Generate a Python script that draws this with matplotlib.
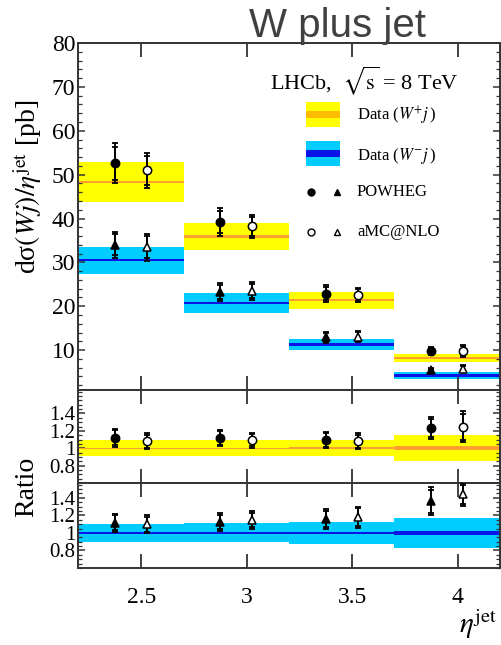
import numpy as np
import matplotlib
matplotlib.use("Agg")
import matplotlib.pyplot as plt
from matplotlib.ticker import MultipleLocator, FixedLocator, FixedFormatter
from matplotlib.patches import Rectangle

plt.rcParams['font.family'] = ['Liberation Serif', 'DejaVu Serif']
plt.rcParams['mathtext.fontset'] = 'stix'

# === data ===
edges = [2.2, 2.7, 3.2, 3.7, 4.2]

# cross-section panel [pb]
data_wp = [48.3, 35.9, 21.4, 8.2]
data_wp_err = [4.5, 3.1, 1.95, 1.0]
data_wm = [30.5, 20.7, 11.3, 4.2]
data_wm_err = [3.1, 2.3, 1.3, 0.7]

pow_wp = [52.6, 39.2, 22.9, 9.8]
pow_wp_err = [4.6, 3.1, 1.85, 0.85]
pow_wp_in = [3.8, 2.6, 1.5, 0.7]
amc_wp = [51.0, 38.2, 22.6, 9.8]
amc_wp_err = [4.0, 2.7, 1.6, 1.4]
amc_wp_in = [3.3, 2.2, 1.3, 1.1]

pow_wm = [34.0, 23.3, 12.9, 5.5]
pow_wm_err = [2.9, 2.0, 1.2, 0.4]
pow_wm_in = [2.4, 1.6, 1.0, 0.3]
amc_wm = [33.4, 23.5, 13.1, 5.7]
amc_wm_err = [3.1, 2.0, 1.3, 0.8]
amc_wm_in = [2.5, 1.6, 1.0, 0.6]

# ratio panels
rat_wp_band = [0.095, 0.092, 0.095, 0.148]
rat_wp_stat = [0.008, 0.008, 0.01, 0.02]
rat_pow_wp = [1.12, 1.12, 1.095, 1.235]
rat_pow_wp_err = [0.105, 0.095, 0.095, 0.125]
rat_pow_wp_in = [0.085, 0.08, 0.08, 0.1]
rat_amc_wp = [1.08, 1.09, 1.08, 1.247]
rat_amc_wp_err = [0.09, 0.085, 0.09, 0.18]
rat_amc_wp_in = [0.075, 0.07, 0.075, 0.15]

rat_wm_band = [0.103, 0.108, 0.122, 0.17]
rat_wm_stat = [0.008, 0.008, 0.01, 0.02]
rat_pow_wm = [1.115, 1.126, 1.16, 1.36]
rat_pow_wm_err = [0.105, 0.10, 0.11, 0.16]
rat_pow_wm_in = [0.085, 0.08, 0.09, 0.13]
rat_amc_wm = [1.10, 1.145, 1.18, 1.44]
rat_amc_wm_err = [0.105, 0.10, 0.12, 0.13]
rat_amc_wm_in = [0.085, 0.08, 0.10, 0.11]

YEL = '#ffff00'
ORA = '#ff9f30'
CYA = '#00ccff'
BLU = '#0a14e6'
SPINE = '#333333'

centers = np.array([(a + b) / 2 for a, b in zip(edges[:-1], edges[1:])])
x_pow = centers - 0.075
x_amc = centers + 0.075
width = 0.5


def band(ax, vals, errs, stat, c_out, c_in):
    vals = np.array(vals)
    errs = np.array(errs)
    stat = np.array(stat)
    ax.bar(centers, 2 * errs, bottom=vals - errs, width=width, color=c_out, linewidth=0, zorder=1)
    ax.bar(centers, 2 * stat, bottom=vals - stat, width=width, color=c_in, linewidth=0, zorder=2)


def points(ax, x, vals, err, err_in, marker, filled):
    face = 'black' if filled else 'white'
    ax.errorbar(x, vals, yerr=err, fmt='none', ecolor='black', elinewidth=1.3, capsize=2, capthick=1.3, zorder=4)
    ax.errorbar(x, vals, yerr=err_in, fmt='none', ecolor='black', elinewidth=1.3, capsize=2, capthick=1.3, zorder=4)
    ax.plot(x, vals, linestyle='none', marker=marker, markersize=6, markerfacecolor=face,
            markeredgecolor='black', markeredgewidth=1.1, zorder=5)


def style(ax, ymin, ymax, minor, lsize):
    ax.set_xlim(2.2, 4.2)
    ax.set_ylim(ymin, ymax)
    for s in ax.spines.values():
        s.set_linewidth(1.4)
        s.set_color(SPINE)
    ax.xaxis.set_major_locator(FixedLocator([2.5, 3, 3.5, 4]))
    ax.yaxis.set_minor_locator(MultipleLocator(minor))
    ax.tick_params(axis='x', which='major', direction='in', length=10, width=1.3, color=SPINE,
                   top=True, bottom=True, labelbottom=False)
    ax.tick_params(axis='y', which='major', direction='in', length=5, width=1.1, color=SPINE,
                   left=True, right=True, labelsize=lsize, pad=2)
    ax.tick_params(axis='y', which='minor', direction='in', length=3, width=0.9, color=SPINE,
                   left=True, right=True)


fig = plt.figure(figsize=(5.02, 6.45), dpi=100)
ax = fig.add_axes([0.1554, 0.3953, 0.8406, 0.5380])
ax1 = fig.add_axes([0.1554, 0.2512, 0.8406, 0.1441])
ax2 = fig.add_axes([0.1554, 0.1194, 0.8406, 0.1318])

# === main panel ===
band(ax, data_wp, data_wp_err, [0.3] * 4, YEL, ORA)
band(ax, data_wm, data_wm_err, [0.3] * 4, CYA, BLU)
points(ax, x_pow, pow_wp, pow_wp_err, pow_wp_in, 'o', True)
points(ax, x_amc, amc_wp, amc_wp_err, amc_wp_in, 'o', False)
points(ax, x_pow, pow_wm, pow_wm_err, pow_wm_in, '^', True)
points(ax, x_amc, amc_wm, amc_wm_err, amc_wm_in, '^', False)
style(ax, 0.9, 80, 2, 17)
ax.yaxis.set_major_locator(FixedLocator([10, 20, 30, 40, 50, 60, 70, 80]))

# legend drawn by hand
ax.text(0.455, 0.893, r'LHCb,  $\sqrt{\mathrm{s}}$ = 8 TeV', transform=ax.transAxes,
        fontsize=16, va='center', ha='left')
ax.add_patch(Rectangle((0.540, 0.758), 0.081, 0.072, transform=ax.transAxes, color=YEL, lw=0, zorder=6))
ax.add_patch(Rectangle((0.540, 0.784), 0.081, 0.020, transform=ax.transAxes, color='#ffbb00', lw=0, zorder=7))
ax.add_patch(Rectangle((0.540, 0.646), 0.081, 0.072, transform=ax.transAxes, color=CYA, lw=0, zorder=6))
ax.add_patch(Rectangle((0.540, 0.672), 0.081, 0.020, transform=ax.transAxes, color=BLU, lw=0, zorder=7))
ax.text(0.661, 0.790, r'Data ($W^{+}j\,$)', transform=ax.transAxes, fontsize=12, va='center')
ax.text(0.661, 0.674, r'Data ($W^{-}j\,$)', transform=ax.transAxes, fontsize=12, va='center')
ax.plot([0.552], [0.571], 'o', color='black', markersize=5, transform=ax.transAxes)
ax.plot([0.614], [0.571], '^', color='black', markersize=5, transform=ax.transAxes)
ax.plot([0.552], [0.455], 'o', mfc='white', mec='black', markersize=5, transform=ax.transAxes)
ax.plot([0.614], [0.455], '^', mfc='white', mec='black', markersize=5, transform=ax.transAxes)
ax.text(0.661, 0.571, 'POWHEG', transform=ax.transAxes, fontsize=12, va='center')
ax.text(0.661, 0.455, 'aMC@NLO', transform=ax.transAxes, fontsize=12, va='center')

# === ratio W+ ===
band(ax1, [1] * 4, rat_wp_band, rat_wp_stat, YEL, ORA)
points(ax1, x_pow, rat_pow_wp, rat_pow_wp_err, rat_pow_wp_in, 'o', True)
points(ax1, x_amc, rat_amc_wp, rat_amc_wp_err, rat_amc_wp_in, 'o', False)
style(ax1, 0.6, 1.67, 0.05, 15)

# === ratio W- ===
band(ax2, [1] * 4, rat_wm_band, rat_wm_stat, CYA, BLU)
points(ax2, x_pow, rat_pow_wm, rat_pow_wm_err, rat_pow_wm_in, '^', True)
points(ax2, x_amc, rat_amc_wm, rat_amc_wm_err, rat_amc_wm_in, '^', False)
style(ax2, 0.6, 1.57, 0.05, 15)

for a in (ax1, ax2):
    a.yaxis.set_major_locator(FixedLocator([0.8, 1.0, 1.2, 1.4]))
    a.yaxis.set_major_formatter(FixedFormatter(['0.8', '1', '1.2', '1.4']))

ax2.tick_params(axis='x', labelbottom=True, labelsize=17, pad=14)
ax2.xaxis.set_major_formatter(FixedFormatter(['2.5', '3', '3.5', '4']))

# axis titles
fig.text(0.054, 1 - 187 / 645, r'dσ$(Wj)/\eta^{\mathrm{jet}}$ [pb]', rotation=90,
         fontsize=20, ha='center', va='center')
fig.text(0.054, 1 - 487 / 645, 'Ratio', rotation=90, fontsize=20, ha='center', va='center')
fig.text(0.99, 1 - 633 / 645, r'$\eta^{\mathrm{jet}}$', fontsize=21, ha='right', va='baseline')

fig.text(0.673, 0.943, 'W plus jet', family='Liberation Sans', fontsize=29, color='#404040',
         ha='center', va='baseline')

fig.savefig('out.png', dpi=100)
